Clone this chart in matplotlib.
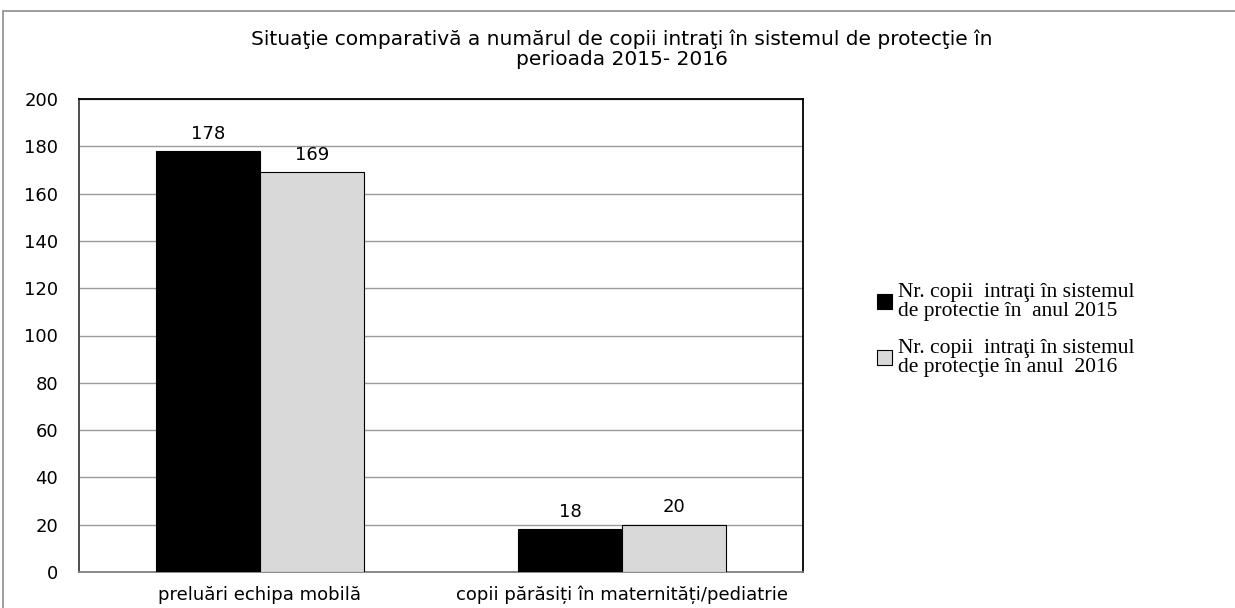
import matplotlib
matplotlib.use("Agg")
import matplotlib.pyplot as plt
from matplotlib.patches import Rectangle
import numpy as np

categories = ["preluări echipa mobilă", "copii părăsiți în maternități/pediatrie"]
series_names = ["Nr. copii  intraţi în sistemul\nde protectie în  anul 2015",
                "Nr. copii  intraţi în sistemul\nde protecţie în anul  2016"]
values_2015 = [178, 18]
values_2016 = [169, 20]
yticks = [0, 20, 40, 60, 80, 100, 120, 140, 160, 180, 200]
title = "Situaţie comparativă a numărul de copii intraţi în sistemul de protecţie în\nperioada 2015- 2016"

W, H = 1235, 608
fig = plt.figure(figsize=(W / 100, H / 100), dpi=100)

# outer frame
fig.patches.append(Rectangle((3 / W, -0.01), 1.1, (H - 11) / H + 0.01, transform=fig.transFigure,
                             fill=False, edgecolor="#8c8c8c", linewidth=1.2))

ax = fig.add_axes([79 / W, 1 - 572 / H, (803 - 79) / W, (572 - 99) / H])
x = np.arange(len(categories))
bw = 0.287
b1 = ax.bar(x - bw / 2, values_2015, bw, color="black", edgecolor="black", linewidth=0.8,
            label=series_names[0], zorder=3)
b2 = ax.bar(x + bw / 2, values_2016, bw, color="#d9d9d9", edgecolor="black", linewidth=0.8,
            label=series_names[1], zorder=3)
for bars in (b1, b2):
    for r in bars:
        ax.text(r.get_x() + r.get_width() / 2, r.get_height() + 3.5, f"{int(r.get_height())}",
                ha="center", va="bottom", fontsize=13, family="DejaVu Sans")

ax.set_xlim(-0.5, 1.5)
ax.set_ylim(0, 200)
ax.set_yticks(yticks)
ax.set_yticklabels([str(t) for t in yticks], fontsize=13, family="DejaVu Sans")
ax.set_xticks(x)
ax.set_xticklabels(categories, fontsize=13, family="DejaVu Sans")
ax.tick_params(axis="both", length=0)
ax.tick_params(axis="y", pad=15)
ax.tick_params(axis="x", pad=10)
ax.grid(axis="y", color="#9a9a9a", linewidth=1.0, zorder=0)
for s in ("top", "right", "left"):
    ax.spines[s].set_color("black")
    ax.spines[s].set_linewidth(1.3)
ax.spines["left"].set_color("#404040")
ax.spines["bottom"].set_color("#808080")
ax.spines["bottom"].set_linewidth(1.3)

fig.text(622 / W, 1 - 49 / H, title, ha="center", va="center", fontsize=14.5,
         family="DejaVu Sans", linespacing=1.05)

leg = fig.legend(handles=[b1, b2], labels=series_names, loc="upper left",
                 bbox_to_anchor=(868 / W, 1 - 274 / H), frameon=False,
                 prop={"family": "Liberation Serif", "size": 15.5},
                 handlelength=0.7, handleheight=0.7, handletextpad=0.3,
                 labelspacing=0.8, borderaxespad=0)
for t in leg.get_texts():
    t.set_linespacing(1.05)

fig.savefig("out.png", dpi=100)
